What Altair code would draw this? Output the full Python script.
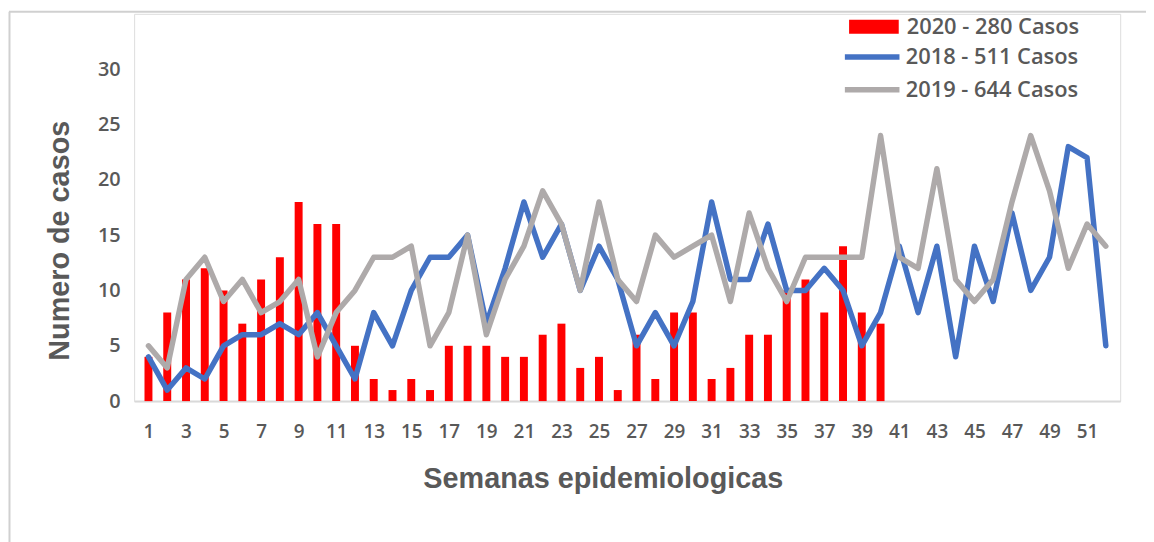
import altair as alt
import pandas as pd

# ---- data ----
weeks = list(range(1, 53))
weeks_2020 = list(range(1, 41))
cases_2020 = [4, 8, 11, 12, 10, 7, 11, 13, 18, 16, 16, 5, 2, 1, 2, 1, 5, 5, 5, 4,
              4, 6, 7, 3, 4, 1, 6, 2, 8, 8, 2, 3, 6, 6, 10, 11, 8, 14, 8, 7]
cases_2018 = [4, 1, 3, 2, 5, 6, 6, 7, 6, 8, 5, 2, 8, 5, 10, 13, 13, 15, 7, 12,
              18, 13, 16, 10, 14, 11, 5, 8, 5, 9, 18, 11, 11, 16, 10, 10, 12, 10, 5, 8,
              14, 8, 14, 4, 14, 9, 17, 10, 13, 23, 22, 5]
cases_2019 = [5, 3, 11, 13, 9, 11, 8, 9, 11, 4, 8, 10, 13, 13, 14, 5, 8, 15, 6, 11,
              14, 19, 16, 10, 18, 11, 9, 15, 13, 14, 15, 9, 17, 12, 9, 13, 13, 13, 13, 24,
              13, 12, 21, 11, 9, 11, 18, 24, 19, 12, 16, 14]
series_labels = ["2020 - 280 Casos", "2018 - 511 Casos", "2019 - 644 Casos"]
series_colors = ["#ff0000", "#4472c4", "#aeaaaa"]
x_tick_values = list(range(1, 52, 2))
y_tick_values = [0, 5, 10, 15, 20, 25, 30]

bars_df = pd.DataFrame({"semana": weeks_2020, "casos": cases_2020, "serie": series_labels[0]})
lines_df = pd.concat([
    pd.DataFrame({"semana": weeks, "casos": cases_2018, "serie": series_labels[1]}),
    pd.DataFrame({"semana": weeks, "casos": cases_2019, "serie": series_labels[2]}),
], ignore_index=True)

TXT = "#595959"
x_scale = alt.Scale(domain=[0.5, 52.5], nice=False, zero=False)
y_scale = alt.Scale(domain=[0, 35], nice=False)

x_axis = alt.Axis(
    values=x_tick_values, format="d", title="Semanas epidemiologicas", grid=False, ticks=False,
    domainColor="#d9d9d9", domainWidth=2, labelFont="Open Sans", labelFontWeight=600,
    labelFontSize=19, labelColor=TXT, labelPadding=22, labelFlush=False, labelOverlap=False,
    titleFont="Liberation Sans", titleFontSize=29, titleFontWeight="bold", titleColor=TXT,
    titleX=472, titleY=78, titleBaseline="middle", titleAlign="center",
)
y_axis = alt.Axis(
    values=y_tick_values, title="Numero de casos", grid=False, ticks=False, domain=False,
    labelFont="Open Sans", labelFontWeight=600, labelFontSize=20, labelColor=TXT,
    labelPadding=14, titleFont="Liberation Sans", titleFontSize=29, titleFontWeight="bold",
    titleColor=TXT, titleX=-75, titleY=228, titleBaseline="middle", titleAlign="center",
)

# light chart-area border (left and top edges; the others fall outside the picture)
frame_left = alt.Chart(alt.Data(values=[{"f": 1}])).mark_rule(
    stroke="#d0d0d0", strokeWidth=2, clip=False
).encode(x=alt.value(-125.5), y=alt.value(-2), y2=alt.value(540))
frame_top = alt.Chart(alt.Data(values=[{"f": 1}])).mark_rule(
    stroke="#d0d0d0", strokeWidth=2, clip=False
).encode(x=alt.value(-126), x2=alt.value(1030), y=alt.value(-2))

bars = alt.Chart(bars_df).mark_bar(size=8).encode(
    x=alt.X("semana:Q", scale=x_scale, axis=x_axis),
    y=alt.Y("casos:Q", scale=y_scale, axis=y_axis),
    color=alt.Color(
        "serie:N",
        scale=alt.Scale(domain=[series_labels[0]], range=[series_colors[0]]),
        legend=alt.Legend(
            orient="none", legendX=720, legendY=-12, title=None, padding=0,
            symbolType="M-1,-0.28H1V0.28H-1Z", symbolSize=2500, symbolStrokeWidth=0,
            labelFont="Open Sans", labelFontWeight=600, labelFontSize=22, labelColor=TXT,
            labelOffset=8, labelLimit=400,
        ),
    ),
)

lines = alt.Chart(lines_df).mark_line(strokeWidth=5.5, strokeJoin="round", strokeCap="round").encode(
    x=alt.X("semana:Q", scale=x_scale, axis=x_axis),
    y=alt.Y("casos:Q", scale=y_scale, axis=y_axis),
    stroke=alt.Stroke(
        "serie:N",
        scale=alt.Scale(domain=series_labels[1:], range=series_colors[1:]),
        legend=alt.Legend(
            orient="none", legendX=713, legendY=27, title=None, padding=0,
            symbolType="M-1,0H3", symbolSize=756, symbolStrokeWidth=5.5,
            labelFont="Open Sans", labelFontWeight=600, labelFontSize=22, labelColor=TXT,
            labelOffset=31, rowPadding=5, labelLimit=400,
        ),
    ),
)

chart = alt.layer(frame_left, frame_top, bars, lines).properties(
    width=993, height=390,
    autosize=alt.AutoSizeParams(type="none"),
    padding={"left": 127, "top": 4, "right": 26, "bottom": 140},
).configure_view(stroke=None).configure(background="white")

chart.save("out.html", embed_options={"renderer": "svg", "actions": False})
